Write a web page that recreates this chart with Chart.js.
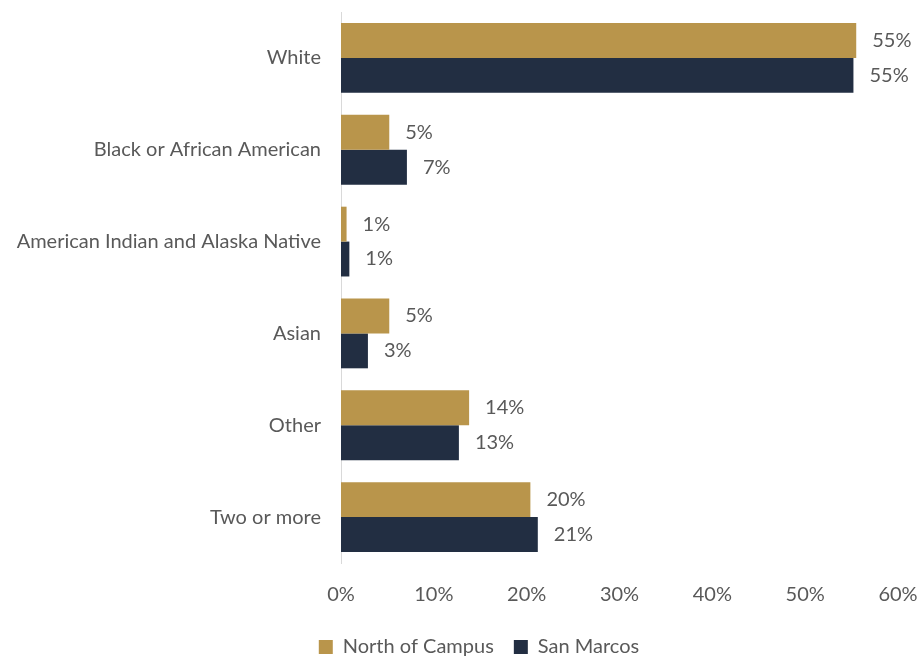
<!DOCTYPE html>
<html><head><meta charset="utf-8">
<script src="https://cdn.jsdelivr.net/npm/chart.js@4/dist/chart.umd.min.js"></script>
<style>html,body{margin:0;padding:0;background:#fff}#wrap{width:924px;height:657px}</style>
</head><body><div id="wrap"><canvas id="c" width="924" height="657"></canvas></div>
<script>
const categories = ["White","Black or African American","American Indian and Alaska Native","Asian","Other","Two or more"];
const northOfCampus = [55.5, 5.2, 0.6, 5.2, 13.8, 20.4];
const sanMarcos = [55.2, 7.1, 0.9, 2.9, 12.7, 21.2];
const northLabels = ["55%","5%","1%","5%","14%","20%"];
const sanLabels = ["55%","7%","1%","3%","13%","21%"];
const xTicks = [0,10,20,30,40,50,60];
const seriesNames = ["North of Campus","San Marcos"];

const FONT = "Lato,'Open Sans','Liberation Sans',sans-serif";
const TXT = '#595959';
const FS = 20;
const LEG_PAD = 20;

const labelPlugin = {
  id:'valLabels',
  afterLayout(chart){
    const lg = chart.legend;
    if (lg) {
      const h = lg.bottom - lg.top;
      const t = 649 - LEG_PAD - 12;
      lg.top = t; lg.bottom = t + h;
      lg.left += 30; lg.right += 30;
    }
  },
  afterDatasetsDraw(chart){
    const ctx = chart.ctx;
    const lbls = [northLabels, sanLabels];
    ctx.save();
    ctx.font = FS + 'px ' + FONT;
    ctx.fillStyle = TXT;
    ctx.textBaseline = 'middle';
    ctx.textAlign = 'left';
    chart.data.datasets.forEach((ds,i)=>{
      chart.getDatasetMeta(i).data.forEach((bar,j)=>{
        ctx.fillText(lbls[i][j], bar.x + 16, bar.y);
      });
    });
    ctx.restore();
  }
};

new Chart(document.getElementById('c'), {
  type:'bar',
  data:{
    labels:categories,
    datasets:[
      {label:seriesNames[0], data:northOfCampus, backgroundColor:'#B9954B', barPercentage:1, categoryPercentage:0.76},
      {label:seriesNames[1], data:sanMarcos, backgroundColor:'#222E42', barPercentage:1, categoryPercentage:0.76}
    ]
  },
  options:{
    indexAxis:'y',
    responsive:false,
    animation:false,
    devicePixelRatio:1,
    layout:{padding:{top:12,right:26,bottom:0,left:0}},
    plugins:{
      legend:{position:'bottom', labels:{font:{family:FONT,size:FS}, color:TXT, boxWidth:14, boxHeight:14, padding:LEG_PAD}},
      tooltip:{enabled:false}
    },
    scales:{
      x:{min:0,max:60, afterBuildTicks(s){s.ticks = xTicks.map(v=>({value:v}));},
        afterFit(s){s.height = 44; s.paddingRight = 0; s.paddingLeft = 0;},
        ticks:{callback:v=>v+'%', font:{family:FONT,size:FS}, color:TXT, padding:12},
        grid:{display:false}, border:{display:false}},
      y:{afterFit(s){s.width = 341; s.paddingTop = 0; s.paddingBottom = 0;},
        ticks:{font:{family:FONT,size:FS}, color:TXT, padding:12},
        grid:{display:false}, border:{display:true,color:'#D9D9D9',width:1}}
    }
  },
  plugins:[labelPlugin]
});
</script></body></html>
